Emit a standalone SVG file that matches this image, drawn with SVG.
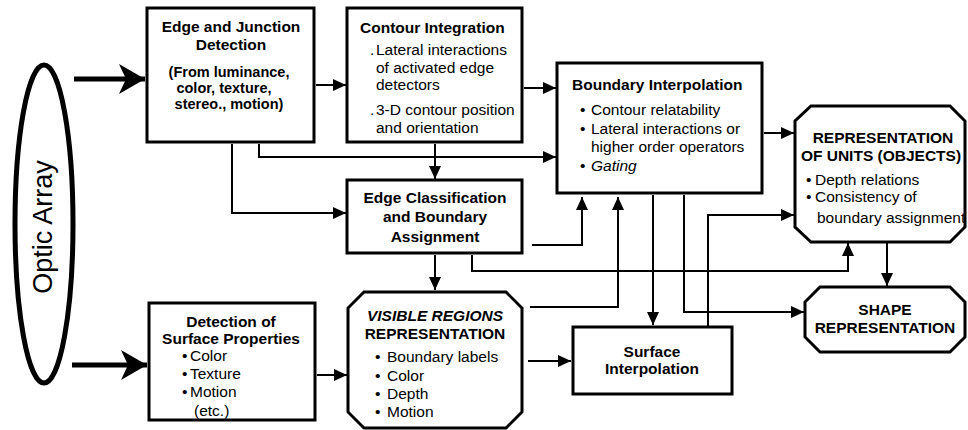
<svg xmlns="http://www.w3.org/2000/svg" width="968" height="430" viewBox="0 0 968 430">
<style>
.bx{fill:#fff;stroke:#000;stroke-width:3}
.t{font-family:"Liberation Sans",Arial,sans-serif;font-size:15.5px;fill:#000}
.b{font-weight:bold}
.c{text-anchor:middle}
.i{font-style:italic}
.s{font-size:14.5px}
.cn{fill:none;stroke:#000;stroke-width:2}
.th{fill:none;stroke:#000;stroke-width:5}
</style>
<defs>
<marker id="a" markerUnits="userSpaceOnUse" markerWidth="14" markerHeight="14" refX="13" refY="7" orient="auto">
<path d="M0,1 L13,7 L0,13 Z" fill="#000"/>
</marker>
<marker id="ta" markerUnits="userSpaceOnUse" markerWidth="28" markerHeight="32" refX="26" refY="16" orient="auto">
<path d="M0,1 L26,16 L0,31 L7,16 Z" fill="#000"/>
</marker>
</defs>
<rect width="968" height="430" fill="#fff"/>

<g id="optic-array">
<ellipse cx="44" cy="224" rx="29" ry="159" fill="#fff" stroke="#000" stroke-width="5"/>
<text class="t" transform="translate(52,227) rotate(-90)" text-anchor="middle" style="font-size:27px">Optic Array</text>
</g>

<g id="connectors">
<path class="th" d="M74 79 H145" marker-end="url(#ta)"/>
<path class="th" d="M72 365 H147" marker-end="url(#ta)"/>
<path class="cn" d="M316 85 H346" marker-end="url(#a)"/>
<path class="cn" d="M524 88 H556" marker-end="url(#a)"/>
<path class="cn" d="M259 144 V157 H556" marker-end="url(#a)"/>
<path class="cn" d="M435 144 V179" marker-end="url(#a)"/>
<path class="cn" d="M232 144 V213 H346" marker-end="url(#a)"/>
<path class="cn" d="M435 255 V290" marker-end="url(#a)"/>
<path class="cn" d="M317 375 H347" marker-end="url(#a)"/>
<path class="cn" d="M528 361 H571" marker-end="url(#a)"/>
<path class="cn" d="M532 245 H582 V197" marker-end="url(#a)"/>
<path class="cn" d="M530 307 H618 V197" marker-end="url(#a)"/>
<path class="cn" d="M653 195 V325" marker-end="url(#a)"/>
<path class="cn" d="M684 195 V312 H804" marker-end="url(#a)"/>
<path class="cn" d="M708 326 V215 H794" marker-end="url(#a)"/>
<path class="cn" d="M472 255 V271 H848 V243" marker-end="url(#a)"/>
<path class="cn" d="M764 133 H794" marker-end="url(#a)"/>
<path class="cn" d="M887 243 V286" marker-end="url(#a)"/>
</g>

<g id="edge-junction">
<rect class="bx" x="147" y="8" width="167" height="134"/>
<text class="t b c" x="231" y="32">Edge and Junction</text>
<text class="t b c" x="231" y="50">Detection</text>
<text class="t b c s" x="229" y="77">(From luminance,</text>
<text class="t b c s" x="224" y="93">color, texture,</text>
<text class="t b c s" x="229" y="109">stereo., motion)</text>
</g>

<g id="contour-integration">
<rect class="bx" x="347" y="8" width="175" height="134"/>
<text class="t b" x="360" y="33">Contour Integration</text>
<text class="t" x="370" y="55">.</text>
<text class="t" x="376" y="55">Lateral interactions</text>
<text class="t" x="376" y="73">of activated edge</text>
<text class="t" x="376" y="90">detectors</text>
<text class="t" x="370" y="115">.</text>
<text class="t" x="376" y="115">3-D contour position</text>
<text class="t" x="376" y="133">and orientation</text>
</g>

<g id="boundary-interpolation">
<rect class="bx" x="557" y="63" width="205" height="130"/>
<text class="t b" x="572" y="90">Boundary Interpolation</text>
<text class="t" x="580" y="115">•</text>
<text class="t" x="591" y="115">Contour relatability</text>
<text class="t" x="580" y="134">•</text>
<text class="t" x="591" y="134">Lateral interactions or</text>
<text class="t" x="591" y="152">higher order operators</text>
<text class="t" x="580" y="171">•</text>
<text class="t i" x="591" y="171">Gating</text>
</g>

<g id="edge-classification">
<rect class="bx" x="347" y="180" width="175" height="73"/>
<text class="t b c" x="435" y="203">Edge Classification</text>
<text class="t b c" x="435" y="222">and Boundary</text>
<text class="t b c" x="435" y="242">Assignment</text>
</g>

<g id="visible-regions">
<path class="bx" d="M364 292 H506 L522 308 V412 L506 428 H364 L348 412 V308 Z"/>
<text class="t b i c" x="435" y="321">VISIBLE REGIONS</text>
<text class="t b c" x="435" y="339">REPRESENTATION</text>
<text class="t" x="375" y="362">•</text>
<text class="t" x="387" y="362">Boundary labels</text>
<text class="t" x="375" y="381">•</text>
<text class="t" x="387" y="381">Color</text>
<text class="t" x="375" y="399">•</text>
<text class="t" x="387" y="399">Depth</text>
<text class="t" x="375" y="417">•</text>
<text class="t" x="387" y="417">Motion</text>
</g>

<g id="surface-properties">
<rect class="bx" x="149" y="303" width="166" height="117"/>
<text class="t b c" x="231" y="327">Detection of</text>
<text class="t b c" x="231" y="344">Surface Properties</text>
<text class="t" x="182" y="361">•</text>
<text class="t" x="190" y="361">Color</text>
<text class="t" x="182" y="379">•</text>
<text class="t" x="190" y="379">Texture</text>
<text class="t" x="182" y="397">•</text>
<text class="t" x="190" y="397">Motion</text>
<text class="t" x="194" y="416">(etc.)</text>
</g>

<g id="surface-interpolation">
<rect class="bx" x="573" y="327" width="159" height="67"/>
<text class="t b c" x="652" y="357">Surface</text>
<text class="t b c" x="652" y="374">Interpolation</text>
</g>

<g id="units-objects">
<path class="bx" d="M811 106 H950 L965 121 V227 L950 242 H811 L795 227 V121 Z"/>
<text class="t b c" x="883" y="143">REPRESENTATION</text>
<text class="t b c" x="881" y="161">OF UNITS (OBJECTS)</text>
<text class="t" x="806" y="185">•</text>
<text class="t" x="815" y="185">Depth relations</text>
<text class="t" x="806" y="202">•</text>
<text class="t" x="815" y="202">Consistency of</text>
<text class="t" x="817" y="223">boundary assignment</text>
</g>

<g id="shape-representation">
<path class="bx" d="M820 287 H950 L965 302 V337 L950 352 H820 L805 337 V302 Z"/>
<text class="t b c" x="885" y="315">SHAPE</text>
<text class="t b c" x="885" y="333">REPRESENTATION</text>
</g>
</svg>
